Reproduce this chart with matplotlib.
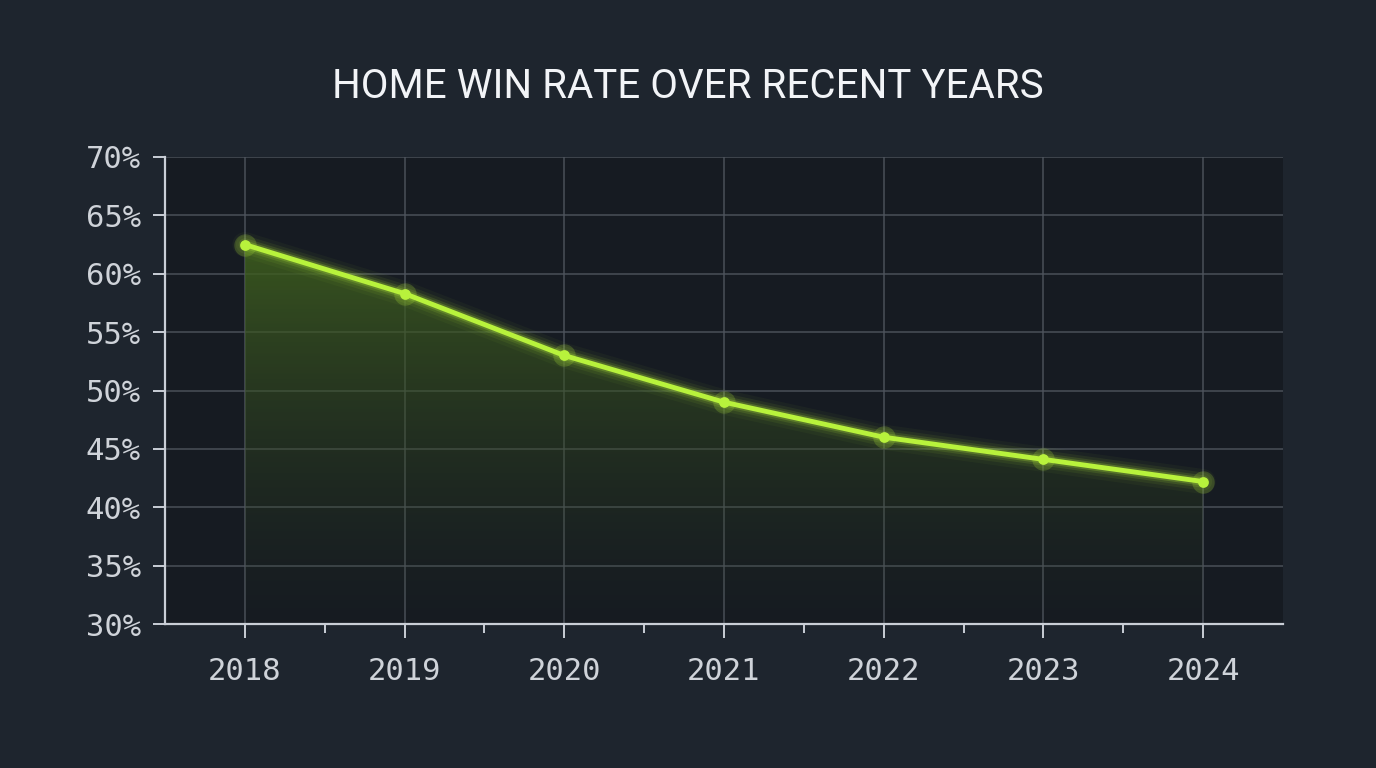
import numpy as np
import matplotlib
matplotlib.use("Agg")
import matplotlib.pyplot as plt
import matplotlib.ticker as mticker
from matplotlib.colors import LinearSegmentedColormap

years = [2018, 2019, 2020, 2021, 2022, 2023, 2024]
home_win_rate = [62.5, 58.3, 53.0, 49.0, 46.0, 44.1, 42.2]
y_ticks = [30, 35, 40, 45, 50, 55, 60, 65, 70]
title = "HOME WIN RATE OVER RECENT YEARS"

COLORS = {
    "bg": "#1e252e",
    "axes": "#161b22",
    "grid": "#4f555e",
    "spine": "#c9ced6",
    "text": "#cfd3d9",
    "title": "#f2f4f7",
    "line": "#b8f23c",
}
MONO = "DejaVu Sans Mono"

fig = plt.figure(figsize=(13.76, 7.68), dpi=100, facecolor=COLORS["bg"])
ax = fig.add_axes([165 / 1376, 1 - 624 / 768, (1283 - 165) / 1376, (624 - 157) / 768])
ax.set_facecolor(COLORS["axes"])

ax.set_xlim(2017.5, 2024.5)
ax.set_ylim(30, 70)

# gradient fill under the line
grad = LinearSegmentedColormap.from_list(
    "g", [(0.16, 0.22, 0.12, 0.0), (0.25, 0.38, 0.12, 0.85)]
)
img = ax.imshow(
    np.linspace(0, 1, 256).reshape(-1, 1),
    extent=[years[0], years[-1], 30, max(home_win_rate)],
    origin="lower", aspect="auto", cmap=grad, zorder=1,
)
poly = ax.fill_between(years, home_win_rate, 30, color="none", lw=0)
img.set_clip_path(poly.get_paths()[0], transform=ax.transData)

# glow
for lw, a in [(18, 0.04), (13, 0.07), (9, 0.12), (6, 0.22)]:
    ax.plot(years, home_win_rate, color=COLORS["line"], lw=lw, alpha=a,
            solid_capstyle="round", zorder=3)
ax.plot(years, home_win_rate, color=COLORS["line"], lw=3.5, zorder=4,
        solid_capstyle="round")
ax.scatter(years, home_win_rate, s=260, color=COLORS["line"], alpha=0.2,
           lw=0, zorder=4)
ax.scatter(years, home_win_rate, s=60, color=COLORS["line"], lw=0, zorder=5)

ax.set_xticks(years)
ax.set_xticks(np.array(years[:-1]) + 0.5, minor=True)
ax.set_yticks(y_ticks)
ax.yaxis.set_major_formatter(mticker.FuncFormatter(lambda v, _: f"{v:.0f}%"))

ax.grid(True, which="major", color=COLORS["grid"], lw=1.1, alpha=0.9, zorder=0)
ax.set_axisbelow(True)

for side in ("top", "right"):
    ax.spines[side].set_visible(False)
for side in ("left", "bottom"):
    ax.spines[side].set_color(COLORS["spine"])
    ax.spines[side].set_linewidth(1.6)

ax.tick_params(axis="y", which="major", length=8.5, width=1.4, color=COLORS["spine"],
               labelcolor=COLORS["text"], labelsize=22, pad=9)
ax.tick_params(axis="x", which="major", length=10, width=1.4, color=COLORS["spine"],
               labelcolor=COLORS["text"], labelsize=22, pad=14)
ax.tick_params(axis="x", which="minor", length=6.5, width=1.4, color=COLORS["spine"])
for lbl in ax.get_xticklabels() + ax.get_yticklabels():
    lbl.set_fontfamily(MONO)

fig.text(688 / 1376, 1 - 87 / 768, title, ha="center", va="center",
         fontsize=29, color=COLORS["title"], family="Roboto")

fig.savefig("out.png", dpi=100, facecolor=COLORS["bg"])
